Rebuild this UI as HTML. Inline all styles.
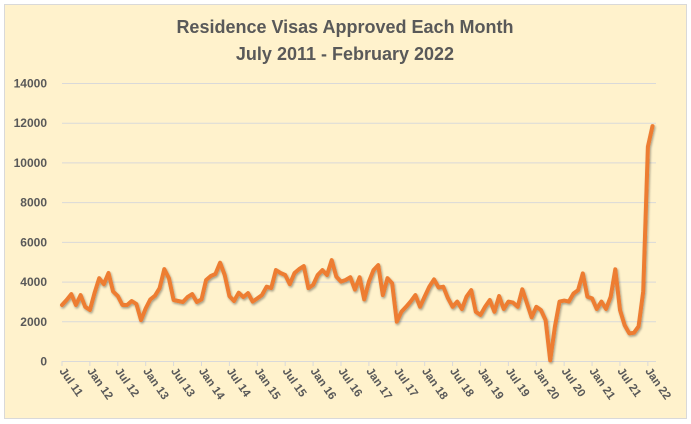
<!DOCTYPE html>
<html><head><meta charset="utf-8"><style>
html,body{margin:0;padding:0;background:#fff;}
svg{display:block;font-family:"Liberation Sans",sans-serif;}
</style></head><body>
<svg id="chart" width="691" height="424" viewBox="0 0 691 424">
<defs><filter id="sh" x="-5%" y="-5%" width="110%" height="110%"><feDropShadow dx="1" dy="1.5" stdDeviation="1" flood-color="#000" flood-opacity="0.35"/></filter></defs>
<rect x="4.5" y="4.5" width="682" height="414" fill="#FFF2CC" stroke="#D9D9D9"/>
<text x="345" y="33" text-anchor="middle" font-size="18" font-weight="bold" fill="#595959">Residence Visas Approved Each Month</text>
<text x="345" y="60" text-anchor="middle" font-size="18" font-weight="bold" fill="#595959">July 2011 - February 2022</text>
<g id="grid"></g><g id="yaxis"></g><g id="xaxis"></g><g id="series"></g>
</svg>
<script>
const yTicks=[0,2000,4000,6000,8000,10000,12000,14000];
const xTickLabels=["Jul 11","Jan 12","Jul 12","Jan 13","Jul 13","Jan 14","Jul 14","Jan 15","Jul 15","Jan 16","Jul 16","Jan 17","Jul 17","Jan 18","Jul 18","Jan 19","Jul 19","Jan 20","Jul 20","Jan 21","Jul 21","Jan 22"];
const visas=[2820,3070,3370,2820,3320,2730,2570,3420,4170,3870,4430,3500,3270,2820,2820,3020,2870,2060,2650,3100,3290,3670,4630,4170,3070,3020,2970,3220,3370,2970,3100,4080,4280,4380,4950,4330,3270,3020,3440,3220,3420,2990,3150,3320,3740,3670,4580,4430,4330,3870,4430,4630,4780,3670,3830,4330,4580,4330,5080,4250,4000,4080,4220,3600,4220,3100,4000,4580,4830,3320,4170,3920,1980,2480,2730,3000,3320,2730,3250,3740,4110,3700,3740,3170,2730,2990,2620,3240,3570,2480,2320,2730,3070,2480,3270,2620,2990,2940,2730,3610,2900,2200,2730,2570,2060,30,1730,2990,3040,2990,3400,3570,4410,3240,3150,2620,2990,2620,3240,4620,2570,1810,1390,1420,1750,3500,10790,11830];
const NS='http://www.w3.org/2000/svg';
const x0=62,x1=652.5,y0=361,y1=83,yMax=14000;
const xs=i=>x0+(x1-x0)*i/(visas.length-1);
const ys=v=>y0-(y0-y1)*v/yMax;
function mk(t,a,p){const e=document.createElementNS(NS,t);for(const k in a)e.setAttribute(k,a[k]);p.appendChild(e);return e;}
const grid=document.getElementById('grid'),ya=document.getElementById('yaxis'),xa=document.getElementById('xaxis'),se=document.getElementById('series');
yTicks.forEach(v=>{
 const l=mk('line',{x1:x0,x2:656,y1:ys(v)+0.5,y2:ys(v)+0.5,stroke:'#D9D9D9','stroke-width':1},grid);
 
 
 const t=mk('text',{x:47,y:ys(v)+4.5,'text-anchor':'end','font-size':12,'font-weight':'bold',fill:'#595959'},ya);
 t.textContent=v;
 
 
});
xTickLabels.forEach((s,k)=>{
 const x=xs(k*6);
 const tk=mk('line',{x1:x,x2:x,y1:y0,y2:y0+5,stroke:'#D9D9D9'},xa);
 
 
 const t=mk('text',{x:0,y:0,'font-size':11.5,'font-weight':'bold',fill:'#595959',transform:`translate(${x-3},${y0+10}) rotate(55)`},xa);
 t.textContent=s;
 
 
});
const d=visas.map((v,i)=>(i?'L':'M')+xs(i).toFixed(1)+' '+ys(v).toFixed(1)).join(' ');
const p=mk('path',{d:d,fill:'none',stroke:'#ED7D31','stroke-width':4,'stroke-linejoin':'round','stroke-linecap':'round',filter:'url(#sh)'},se);


</script>
</body></html>
